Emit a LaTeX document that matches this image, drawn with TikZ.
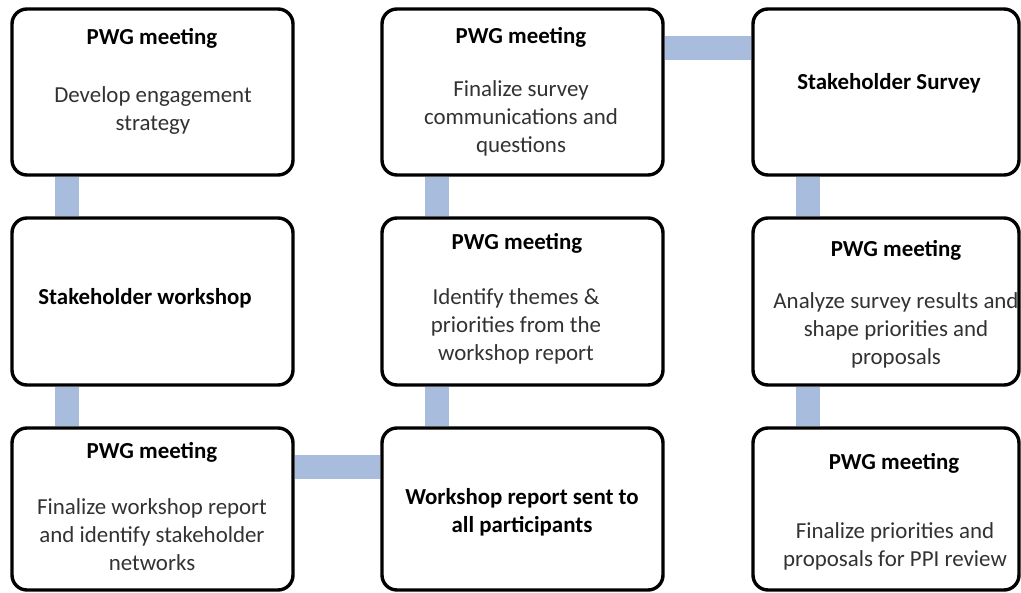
\documentclass[tikz,border=0pt]{standalone}
\usepackage{fontspec}
\setmainfont{Carlito}
\pgfdeclarelayer{background}
\pgfsetlayers{background,main}
\definecolor{barblue}{RGB}{168,189,222}
\definecolor{bodygray}{RGB}{50,50,50}
\tikzset{
  box/.style={draw=black, line width=3.4pt, fill=white, rounded corners=15pt, inner sep=0pt},
  ttl/.style={inner sep=0pt, align=center, font={\fontsize{22.9}{28}\selectfont\bfseries}, text=black},
  body/.style={inner sep=0pt, align=center, font={\fontsize{22.9}{28}\selectfont}, text=bodygray},
  bar/.style={draw=barblue, line width=24pt, line cap=butt}
}
\begin{document}
\begin{tikzpicture}[x=1pt,y=-1pt]
\path[use as bounding box] (0,0) rectangle (1021,593);
% boxes (center, size)
\node[box, minimum width=281pt, minimum height=166pt] (b11) at (152.5,92) {};
\node[box, minimum width=281pt, minimum height=166pt] (b12) at (522.5,92) {};
\node[box, minimum width=266pt, minimum height=166pt] (b13) at (886,92) {};
\node[box, minimum width=281pt, minimum height=167pt] (b21) at (152.5,301.5) {};
\node[box, minimum width=281pt, minimum height=167pt] (b22) at (522.5,301.5) {};
\node[box, minimum width=266pt, minimum height=167pt] (b23) at (886,301.5) {};
\node[box, minimum width=281pt, minimum height=162pt] (b31) at (152.5,509) {};
\node[box, minimum width=281pt, minimum height=162pt] (b32) at (522.5,509) {};
\node[box, minimum width=266pt, minimum height=162pt] (b33) at (886,509) {};
% texts
\node[ttl] (t11) at (152,38) {PWG meeting};
\node[body] (s11) at (153,111) {Develop engagement\\strategy};
\node[ttl] (t12) at (521,37) {PWG meeting};
\node[body] (s12) at (521,118) {Finalize survey\\communications and\\questions};
\node[ttl] (t13) at (889,83) {Stakeholder Survey};
\node[ttl] (t21) at (145,298) {Stakeholder workshop};
\node[ttl] (t22) at (517,243) {PWG meeting};
\node[body] (s22) at (516,326) {Identify themes \&\\priorities from the\\workshop report};
\node[ttl] (t23) at (896,250) {PWG meeting};
\node[body] (s23) at (896,330) {Analyze survey results and\\shape priorities and\\proposals};
\node[ttl] (t31) at (152,452) {PWG meeting};
\node[body] (s31) at (152,535) {Finalize workshop report\\and identify stakeholder\\networks};
\node[ttl] (t32) at (522,512) {Workshop report sent to\\all participants};
\node[ttl] (t33) at (894,463) {PWG meeting};
\node[body] (s33) at (895,546.5) {Finalize priorities and\\proposals for PPI review};
% connectors
\begin{pgfonlayer}{background}
\draw[bar] ([xshift=57pt]b11.south west) -- ([xshift=57pt]b21.north west);
\draw[bar] ([xshift=57pt]b21.south west) -- ([xshift=57pt]b31.north west);
\draw[bar] ([yshift=-41pt]b31.north east) -- ([yshift=-41pt]b32.north west);
\draw[bar] ([xshift=57pt]b32.north west) -- ([xshift=57pt]b22.south west);
\draw[bar] ([xshift=57pt]b22.north west) -- ([xshift=57pt]b12.south west);
\draw[bar] ([yshift=-41pt]b12.north east) -- ([yshift=-41pt]b13.north west);
\draw[bar] ([xshift=57pt]b13.south west) -- ([xshift=57pt]b23.north west);
\draw[bar] ([xshift=57pt]b23.south west) -- ([xshift=57pt]b33.north west);
\end{pgfonlayer}
\end{tikzpicture}
\end{document}
